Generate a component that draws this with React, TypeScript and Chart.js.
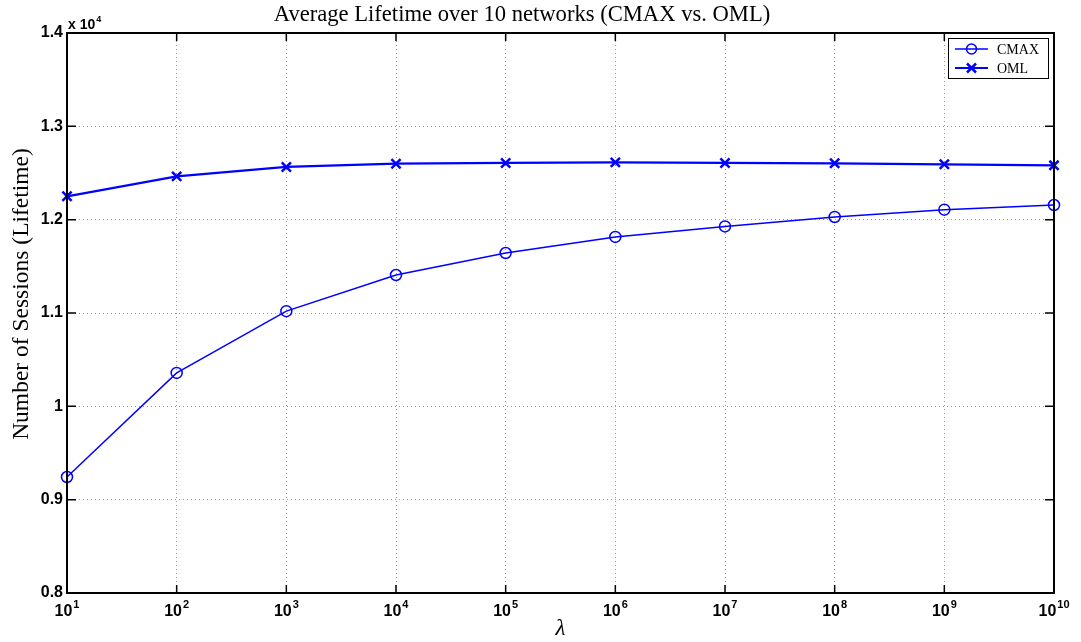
import React, { useEffect, useRef } from "react";
import { Chart, registerables } from "chart.js";

Chart.register(...registerables);

const LAMBDA = [1e1, 1e2, 1e3, 1e4, 1e5, 1e6, 1e7, 1e8, 1e9, 1e10];
const X_EXPONENTS = ["1", "2", "3", "4", "5", "6", "7", "8", "9", "10"];
const CMAX = [9243, 10358, 11020, 11407, 11643, 11815, 11928, 12029, 12107, 12157];
const OML = [12250, 12464, 12565, 12600, 12608, 12614, 12608, 12604, 12593, 12582];
const Y_TICKS = [8000, 9000, 10000, 11000, 12000, 13000, 14000];
const TITLE = "Average Lifetime over 10 networks (CMAX vs. OML)";
const Y_LABEL = "Number of Sessions (Lifetime)";
const X_LABEL = "λ";
const SERIES_NAMES = ["CMAX", "OML"];

const BLUE = "#0000ff";

function drawCross(ctx: CanvasRenderingContext2D, cx: number, cy: number, h: number) {
  ctx.beginPath();
  ctx.moveTo(cx - h, cy - h);
  ctx.lineTo(cx + h, cy + h);
  ctx.moveTo(cx - h, cy + h);
  ctx.lineTo(cx + h, cy - h);
  ctx.stroke();
}

const matlabPlugin = {
  id: "matlab",
  afterDraw(chart: any) {
    const ctx: CanvasRenderingContext2D = chart.ctx;
    const { left, top, right, bottom } = chart.chartArea;
    const xs = chart.scales.x;
    const ys = chart.scales.y;
    ctx.save();

    // axes box
    ctx.strokeStyle = "#000";
    ctx.lineWidth = 2;
    ctx.strokeRect(left, top, right - left, bottom - top);

    // inner tick marks
    ctx.lineWidth = 1.5;
    ctx.beginPath();
    LAMBDA.forEach((v) => {
      const px = xs.getPixelForValue(v);
      ctx.moveTo(px, bottom);
      ctx.lineTo(px, bottom - 8);
      ctx.moveTo(px, top);
      ctx.lineTo(px, top + 8);
    });
    Y_TICKS.forEach((v) => {
      const py = ys.getPixelForValue(v);
      ctx.moveTo(left, py);
      ctx.lineTo(left + 9, py);
      ctx.moveTo(right, py);
      ctx.lineTo(right - 9, py);
    });
    ctx.stroke();

    // x tick labels 10^n
    ctx.fillStyle = "#000";
    ctx.textBaseline = "alphabetic";
    ctx.textAlign = "left";
    const baseFont = "bold 16px 'Liberation Sans', Arial, sans-serif";
    const expFont = "bold 11px 'Liberation Sans', Arial, sans-serif";
    LAMBDA.forEach((v, i) => {
      const px = xs.getPixelForValue(v);
      ctx.font = baseFont;
      const wb = ctx.measureText("10").width;
      ctx.font = expFont;
      const we = ctx.measureText(X_EXPONENTS[i]).width;
      const x0 = px - (wb + we + 1) / 2;
      ctx.font = baseFont;
      ctx.fillText("10", x0, bottom + 23);
      ctx.font = expFont;
      ctx.fillText(X_EXPONENTS[i], x0 + wb + 1, bottom + 15);
    });

    // x 10^4 multiplier
    ctx.font = "bold 14px 'Liberation Sans', Arial, sans-serif";
    ctx.fillText("x 10", left + 1, top - 4);
    const wm = ctx.measureText("x 10").width;
    ctx.font = "bold 9px 'Liberation Sans', Arial, sans-serif";
    ctx.fillText("4", left + 2 + wm, top - 11);

    // title
    ctx.font = "22.6px 'Liberation Serif', 'Times New Roman', serif";
    ctx.textAlign = "center";
    ctx.fillText(TITLE, 522, 21);

    // x label
    ctx.font = "italic 23px 'Liberation Serif', 'Times New Roman', serif";
    ctx.fillText(X_LABEL, (left + right) / 2, bottom + 42);

    // y label
    ctx.save();
    ctx.translate(28, 294);
    ctx.rotate(-Math.PI / 2);
    ctx.font = "23.5px 'Liberation Serif', 'Times New Roman', serif";
    ctx.textAlign = "center";
    ctx.fillText(Y_LABEL, 0, 0);
    ctx.restore();

    // legend
    const lx = right - 106;
    const ly = top + 5;
    const lw = 100;
    const lh = 40;
    ctx.fillStyle = "#fff";
    ctx.fillRect(lx, ly, lw, lh);
    ctx.strokeStyle = "#000";
    ctx.lineWidth = 1;
    ctx.strokeRect(lx + 0.5, ly + 0.5, lw, lh);
    const rows = [ly + 11, ly + 30];
    ctx.strokeStyle = BLUE;
    // CMAX row
    ctx.lineWidth = 1.5;
    ctx.beginPath();
    ctx.moveTo(lx + 7, rows[0]);
    ctx.lineTo(lx + 40, rows[0]);
    ctx.stroke();
    ctx.beginPath();
    ctx.arc(lx + 23.5, rows[0], 5, 0, Math.PI * 2);
    ctx.stroke();
    // OML row
    ctx.lineWidth = 2;
    ctx.beginPath();
    ctx.moveTo(lx + 7, rows[1]);
    ctx.lineTo(lx + 40, rows[1]);
    ctx.stroke();
    ctx.lineWidth = 2.5;
    drawCross(ctx, lx + 23.5, rows[1], 4.5);
    ctx.fillStyle = "#000";
    ctx.textAlign = "left";
    ctx.textBaseline = "middle";
    ctx.font = "14px 'Liberation Serif', 'Times New Roman', serif";
    ctx.fillText(SERIES_NAMES[0], lx + 49, rows[0] + 1);
    ctx.fillText(SERIES_NAMES[1], lx + 49, rows[1] + 1);

    ctx.restore();
  },
};

export default function App() {
  const canvasRef = useRef<HTMLCanvasElement | null>(null);

  useEffect(() => {
    document.body.style.margin = "0";
    const canvas = canvasRef.current;
    if (!canvas) return;
    const chart = new Chart(canvas, {
      type: "line",
      data: {
        datasets: [
          {
            label: SERIES_NAMES[0],
            data: LAMBDA.map((x, i) => ({ x, y: CMAX[i] })),
            borderColor: BLUE,
            borderWidth: 1.5,
            pointStyle: "circle",
            pointRadius: 5.5,
            pointBorderWidth: 1.5,
            pointBackgroundColor: "rgba(0,0,0,0)",
            pointBorderColor: BLUE,
            tension: 0,
            clip: false as any,
          },
          {
            label: SERIES_NAMES[1],
            data: LAMBDA.map((x, i) => ({ x, y: OML[i] })),
            borderColor: BLUE,
            borderWidth: 2.2,
            pointStyle: "crossRot",
            pointRadius: 6.5,
            pointBorderWidth: 2.5,
            pointBackgroundColor: BLUE,
            pointBorderColor: BLUE,
            tension: 0,
            clip: false as any,
          },
        ],
      },
      options: {
        responsive: false,
        animation: false,
        devicePixelRatio: 1,
        layout: { padding: { top: 33, right: 27, bottom: 0, left: 0 } },
        plugins: {
          legend: { display: false },
          title: { display: false },
          tooltip: { enabled: false },
        },
        scales: {
          x: {
            type: "logarithmic",
            min: 10,
            max: 1e10,
            afterBuildTicks: (s: any) => {
              s.ticks = LAMBDA.map((v) => ({ value: v }));
            },
            afterFit: (s: any) => {
              s.height = 49;
            },
            ticks: { display: false },
            border: { display: false, dash: [1, 3] },
            grid: {
              color: "#9a9a9a",
              lineWidth: 1,
              drawTicks: false,
            },
          },
          y: {
            type: "linear",
            min: 8000,
            max: 14000,
            afterBuildTicks: (s: any) => {
              s.ticks = Y_TICKS.map((v) => ({ value: v }));
            },
            afterFit: (s: any) => {
              s.width = 67;
            },
            ticks: {
              color: "#000",
              padding: 4,
              font: { family: "'Liberation Sans', Arial, sans-serif", weight: "bold", size: 16 },
              callback: (v: any) => String(Number(v) / 10000),
            },
            border: { display: false, dash: [1, 3] },
            grid: {
              color: "#9a9a9a",
              lineWidth: 1,
              drawTicks: false,
            },
          },
        },
      } as any,
      plugins: [matlabPlugin],
    });
    return () => chart.destroy();
  }, []);

  return (
    <div style={{ position: "absolute", left: 0, top: 0, width: 1081, height: 642, background: "#fff" }}>
      <canvas ref={canvasRef} width={1081} height={642} />
    </div>
  );
}
